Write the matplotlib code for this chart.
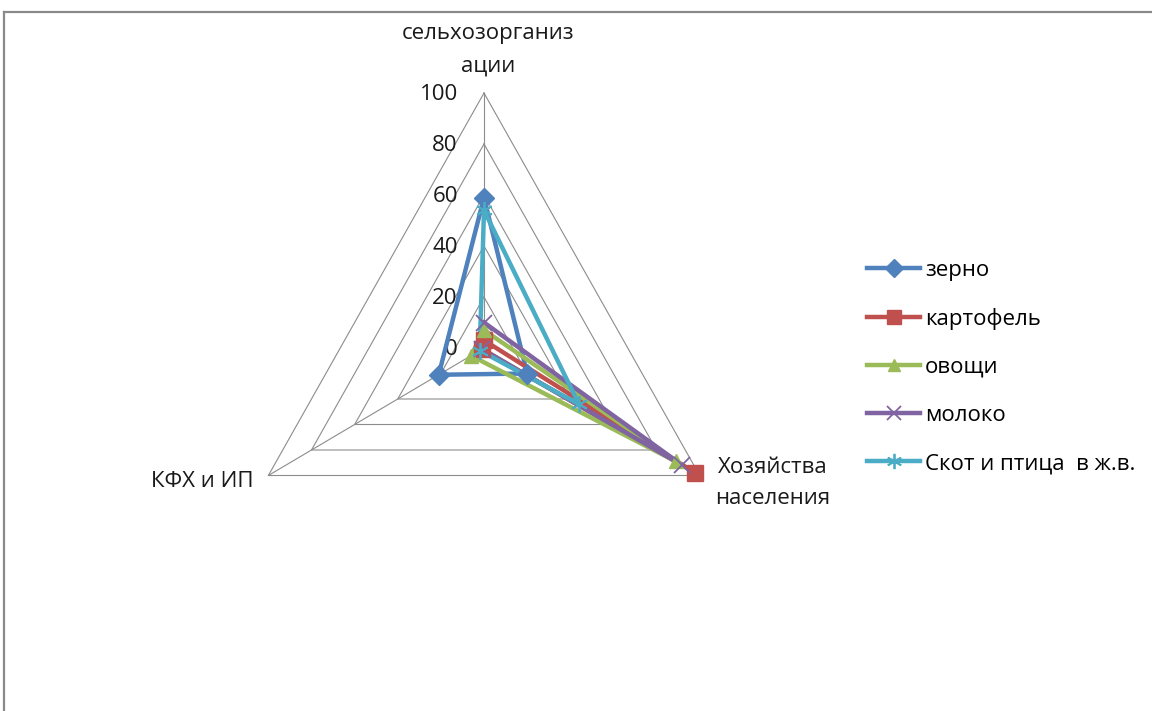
import numpy as np
import matplotlib
matplotlib.use('Agg')
import matplotlib.pyplot as plt
from matplotlib.lines import Line2D

plt.rcParams['font.family'] = ['Open Sans', 'DejaVu Sans']

# структура производства по категориям хозяйств, %
categories = ['сельхозорганиз\nации', 'Хозяйства\nнаселения', 'КФХ и ИП']
series_names = ['зерно', 'картофель', 'овощи', 'молоко', 'Скот и птица  в ж.в.']
zerno = [59, 20, 21]
kartofel = [3, 98, 1]
ovoshchi = [7, 89, 6]
moloko = [10, 92, 1]
skot = [54, 44, 2]
ticks = [0, 20, 40, 60, 80, 100]

series = [zerno, kartofel, ovoshchi, moloko, skot]
colors = ['#4F81BD', '#C0504D', '#9BBB59', '#8064A2', '#4BACC6']
markers = ['D', 's', '^', 'x', (6, 2, 0)]
msizes = [10, 11, 10, 11, 12]

W, H = 1152, 711
cx, cy = 484, 348        # центр в пикселях
sx, sy = 2.49, 2.55      # пикселей на единицу по x и y
fs = 16
txt_c = '#1A1A1A'

# углы осей: сверху и далее по часовой стрелке
ang = np.pi / 2 - np.arange(3) * 2 * np.pi / 3


def to_xy(vals):
    v = np.asarray(vals, dtype=float)
    x = v * np.cos(ang)
    y = v * np.sin(ang)
    return np.append(x, x[0]), np.append(y, y[0])


fig = plt.figure(figsize=(W / 100, H / 100), dpi=100)
ax = fig.add_axes([0, 0, 1, 1])
ax.set_xlim(-cx / sx, (W - cx) / sx)
ax.set_ylim((cy - H) / sy, cy / sy)
ax.axis('off')

# сетка
grid_c = '#8C8C8C'
for t in ticks[1:]:
    gx, gy = to_xy([t] * 3)
    ax.plot(gx, gy, color=grid_c, lw=0.8, zorder=1)
for a in ang:
    ax.plot([0, 100 * np.cos(a)], [0, 100 * np.sin(a)], color=grid_c, lw=0.8, zorder=1)

# подписи шкалы
for t in ticks:
    ax.text(-10.5, t - 0.6, str(t), ha='right', va='center', fontsize=fs, color=txt_c)

# подписи категорий
ax.text(1.5, 117, categories[0], ha='center', va='center', fontsize=fs,
        linespacing=1.7, color=txt_c)
ax.text(116, -53, categories[1], ha='center', va='center', fontsize=fs,
        linespacing=1.65, color=txt_c)
ax.text(-92.5, -52.5, categories[2], ha='right', va='center', fontsize=fs,
        color=txt_c)

# ряды данных
handles = []
for vals, c, m, ms, name in zip(series, colors, markers, msizes, series_names):
    px, py = to_xy(vals)
    mw = 1.3 if m in ('x', (6, 2, 0)) else 1
    ax.plot(px, py, color=c, lw=3.2, zorder=3)
    ax.plot(px[:-1], py[:-1], ls='none', marker=m, ms=ms, color=c,
            mec=c, mew=mw, zorder=4)
    handles.append(Line2D([], [], color=c, lw=3.2, marker=m, ms=ms - 1, mec=c,
                          mew=mw, label=name))

fig.legend(handles=handles, loc='center left', bbox_to_anchor=(0.743, 0.484),
           frameon=False, handlelength=2.4, handletextpad=0.2,
           labelspacing=1.22, borderpad=0, prop={'size': fs})

# рамка области диаграммы
fig.add_artist(Line2D([4 / W, 4 / W], [0, 1 - 12 / H], transform=fig.transFigure,
                      color='#8A8A8A', lw=1.6))
fig.add_artist(Line2D([4 / W, 1], [1 - 12 / H, 1 - 12 / H], transform=fig.transFigure,
                      color='#8A8A8A', lw=1.6))

fig.savefig('out.png', dpi=100)
